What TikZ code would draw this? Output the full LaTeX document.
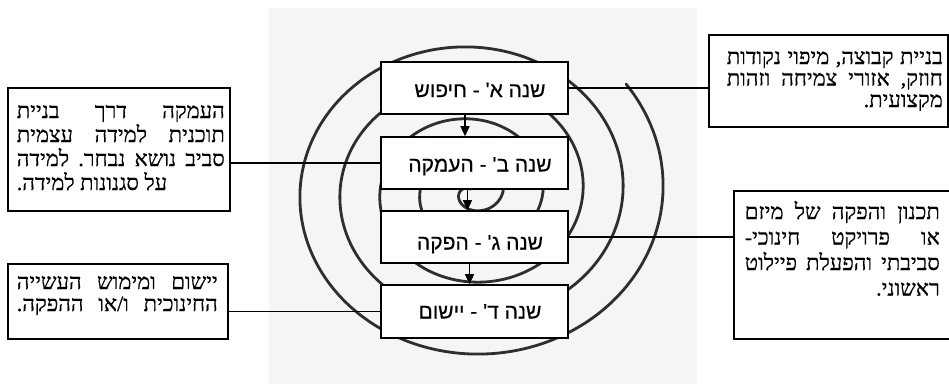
\documentclass[tikz,border=0pt]{standalone}
\usepackage{fontspec}
\usetikzlibrary{arrows.meta}
\newfontfamily\hebsans[Script=Hebrew,FakeBold=0.3]{Liberation Sans}
\newfontfamily\hebserif[Script=Hebrew,FakeBold=0.6]{Liberation Serif}
\TeXXeTstate=1
\definecolor{bggray}{HTML}{F4F5F5}
\definecolor{spiralc}{HTML}{2E2E2E}
\newcommand{\wg}{\hskip 0.2em plus 1fill\relax}
\newcommand{\hjl}[2]{\hbox to #1{#2}}
\newcommand{\hrl}[2]{\hbox to #1{\hfill#2}}
\newcommand{\hll}[2]{\hbox to #1{#2\hfill}}
\tikzset{
  bgrect/.style={fill=bggray, draw=none},
  spiral/.style={draw=spiralc, line width=2.8pt, line cap=round},
  yearbox/.style={draw=black, fill=white, line width=1.6pt, minimum width=187pt, minimum height=52pt, inner sep=0pt},
  sidebox/.style={draw=black, fill=white, line width=1.6pt, inner sep=0pt},
  yeartext/.style={font=\hebsans\fontsize{21}{25}\selectfont, inner sep=0pt, anchor=base},
  sidetext/.style={inner sep=0pt, anchor=base east, font=\hebserif\fontsize{22}{26}\selectfont},
  conn/.style={draw=black, line width=1.5pt},
  arr/.style={draw=black, line width=1.3pt, -{Triangle[length=10pt,width=9pt]}},
}
\begin{document}
\begin{tikzpicture}[x=1pt, y=-1pt]
\useasboundingbox (0,0) rectangle (949,384);
\fill[bgrect] (269,8) rectangle (697,384);
% spiral
\draw[spiral] plot[domain=-0.105:4.7, samples=500, variable=\s, smooth]
  ({471.5+(191.5-40*\s)*cos(-360*\s)}, {191.5-(171.5-36*\s)*sin(-360*\s)});
% year boxes
\node[yearbox] (A) at (474.5,88) {};
\node[yearbox] (B) at (474.5,163) {};
\node[yearbox] (C) at (474.5,237) {};
\node[yearbox, minimum height=53pt] (D) at (474.5,311.5) {};
\node[yeartext] (At) at (480,97) {\beginR שנה א' - חיפוש\endR};
\node[yeartext] (Bt) at (480,171.5) {\beginR שנה ב' - העמקה\endR};
\node[yeartext] (Ct) at (480,249.5) {\beginR שנה ג' - הפקה\endR};
\node[yeartext] (Dt) at (480,318.5) {\beginR שנה ד' - יישום\endR};
% arrows
\draw[arr] ([xshift=-9.5pt]A.south) -- ([xshift=-9.5pt]B.north);
\draw[arr] ([xshift=-7pt]B.south) -- ([xshift=-7pt]C.north);
\draw[arr] ([xshift=-5pt]C.south) -- ([xshift=-5pt]D.north);
% side boxes
\node[sidebox, minimum width=239pt, minimum height=92pt] (rb1) at (828.5,81) {};
\node[sidebox, minimum width=222pt, minimum height=123pt] (lb1) at (119,149.5) {};
\node[sidebox, minimum width=220pt, minimum height=75pt] (lb2) at (118,301.5) {};
\node[sidebox, minimum width=221pt, minimum height=148pt] (rb2) at (844.5,265) {};
% side texts
\node[sidetext] (rb1t) at (943,64) {\vtop{\baselineskip=21.5pt\lineskiplimit=-100pt
  \hjl{216pt}{\beginR בניית\wg קבוצה,\wg מיפוי\wg נקודות\endR}
  \hjl{216pt}{\beginR חוזק,\wg אזורי\wg צמיחה\wg וזהות\endR}
  \hrl{216pt}{\beginR מקצועית.\endR}}};
\node[sidetext] (lb1t) at (225,118) {\vtop{\baselineskip=24pt\lineskiplimit=-100pt
  \hjl{208pt}{\beginR העמקה\wg דרך\wg בניית\endR}
  \hjl{208pt}{\beginR תוכנית\wg למידה\wg עצמית\endR}
  \hjl{208pt}{\beginR סביב\wg נושא\wg נבחר.\wg למידה\endR}
  \hll{208pt}{\beginR על סגנונות למידה.\endR}}};
\node[sidetext] (lb2t) at (218,289) {\vtop{\baselineskip=22pt\lineskiplimit=-100pt
  \hjl{201pt}{\beginR יישום\wg ומימוש\wg העשייה\endR}
  \hjl{201pt}{\beginR החינוכית\wg ו/או\wg ההפקה.\endR}}};
\node[sidetext, font=\hebserif\fontsize{22}{26}\selectfont] (rb2t) at (940,219) {\vtop{\baselineskip=25.5pt\lineskiplimit=-100pt
  \hjl{195pt}{\beginR תכנון\wg והפקה\wg של\wg מיזם\endR}
  \hjl{195pt}{\beginR או\wg פרויקט\wg חינוכי-\endR}
  \hjl{195pt}{\beginR סביבתי\wg והפעלת\wg פיילוט\endR}
  \hrl{195pt}{\beginR ראשוני.\endR}}};
% connectors
\draw[conn] (A.east) -- (A.east -| rb1.west);
\draw[conn] (B.west) -- (B.west -| lb1.east);
\draw[conn] (C.east) -- (C.east -| rb2.west);
\draw[conn] (D.west) -- (D.west -| lb2.east);
\end{tikzpicture}
\end{document}
